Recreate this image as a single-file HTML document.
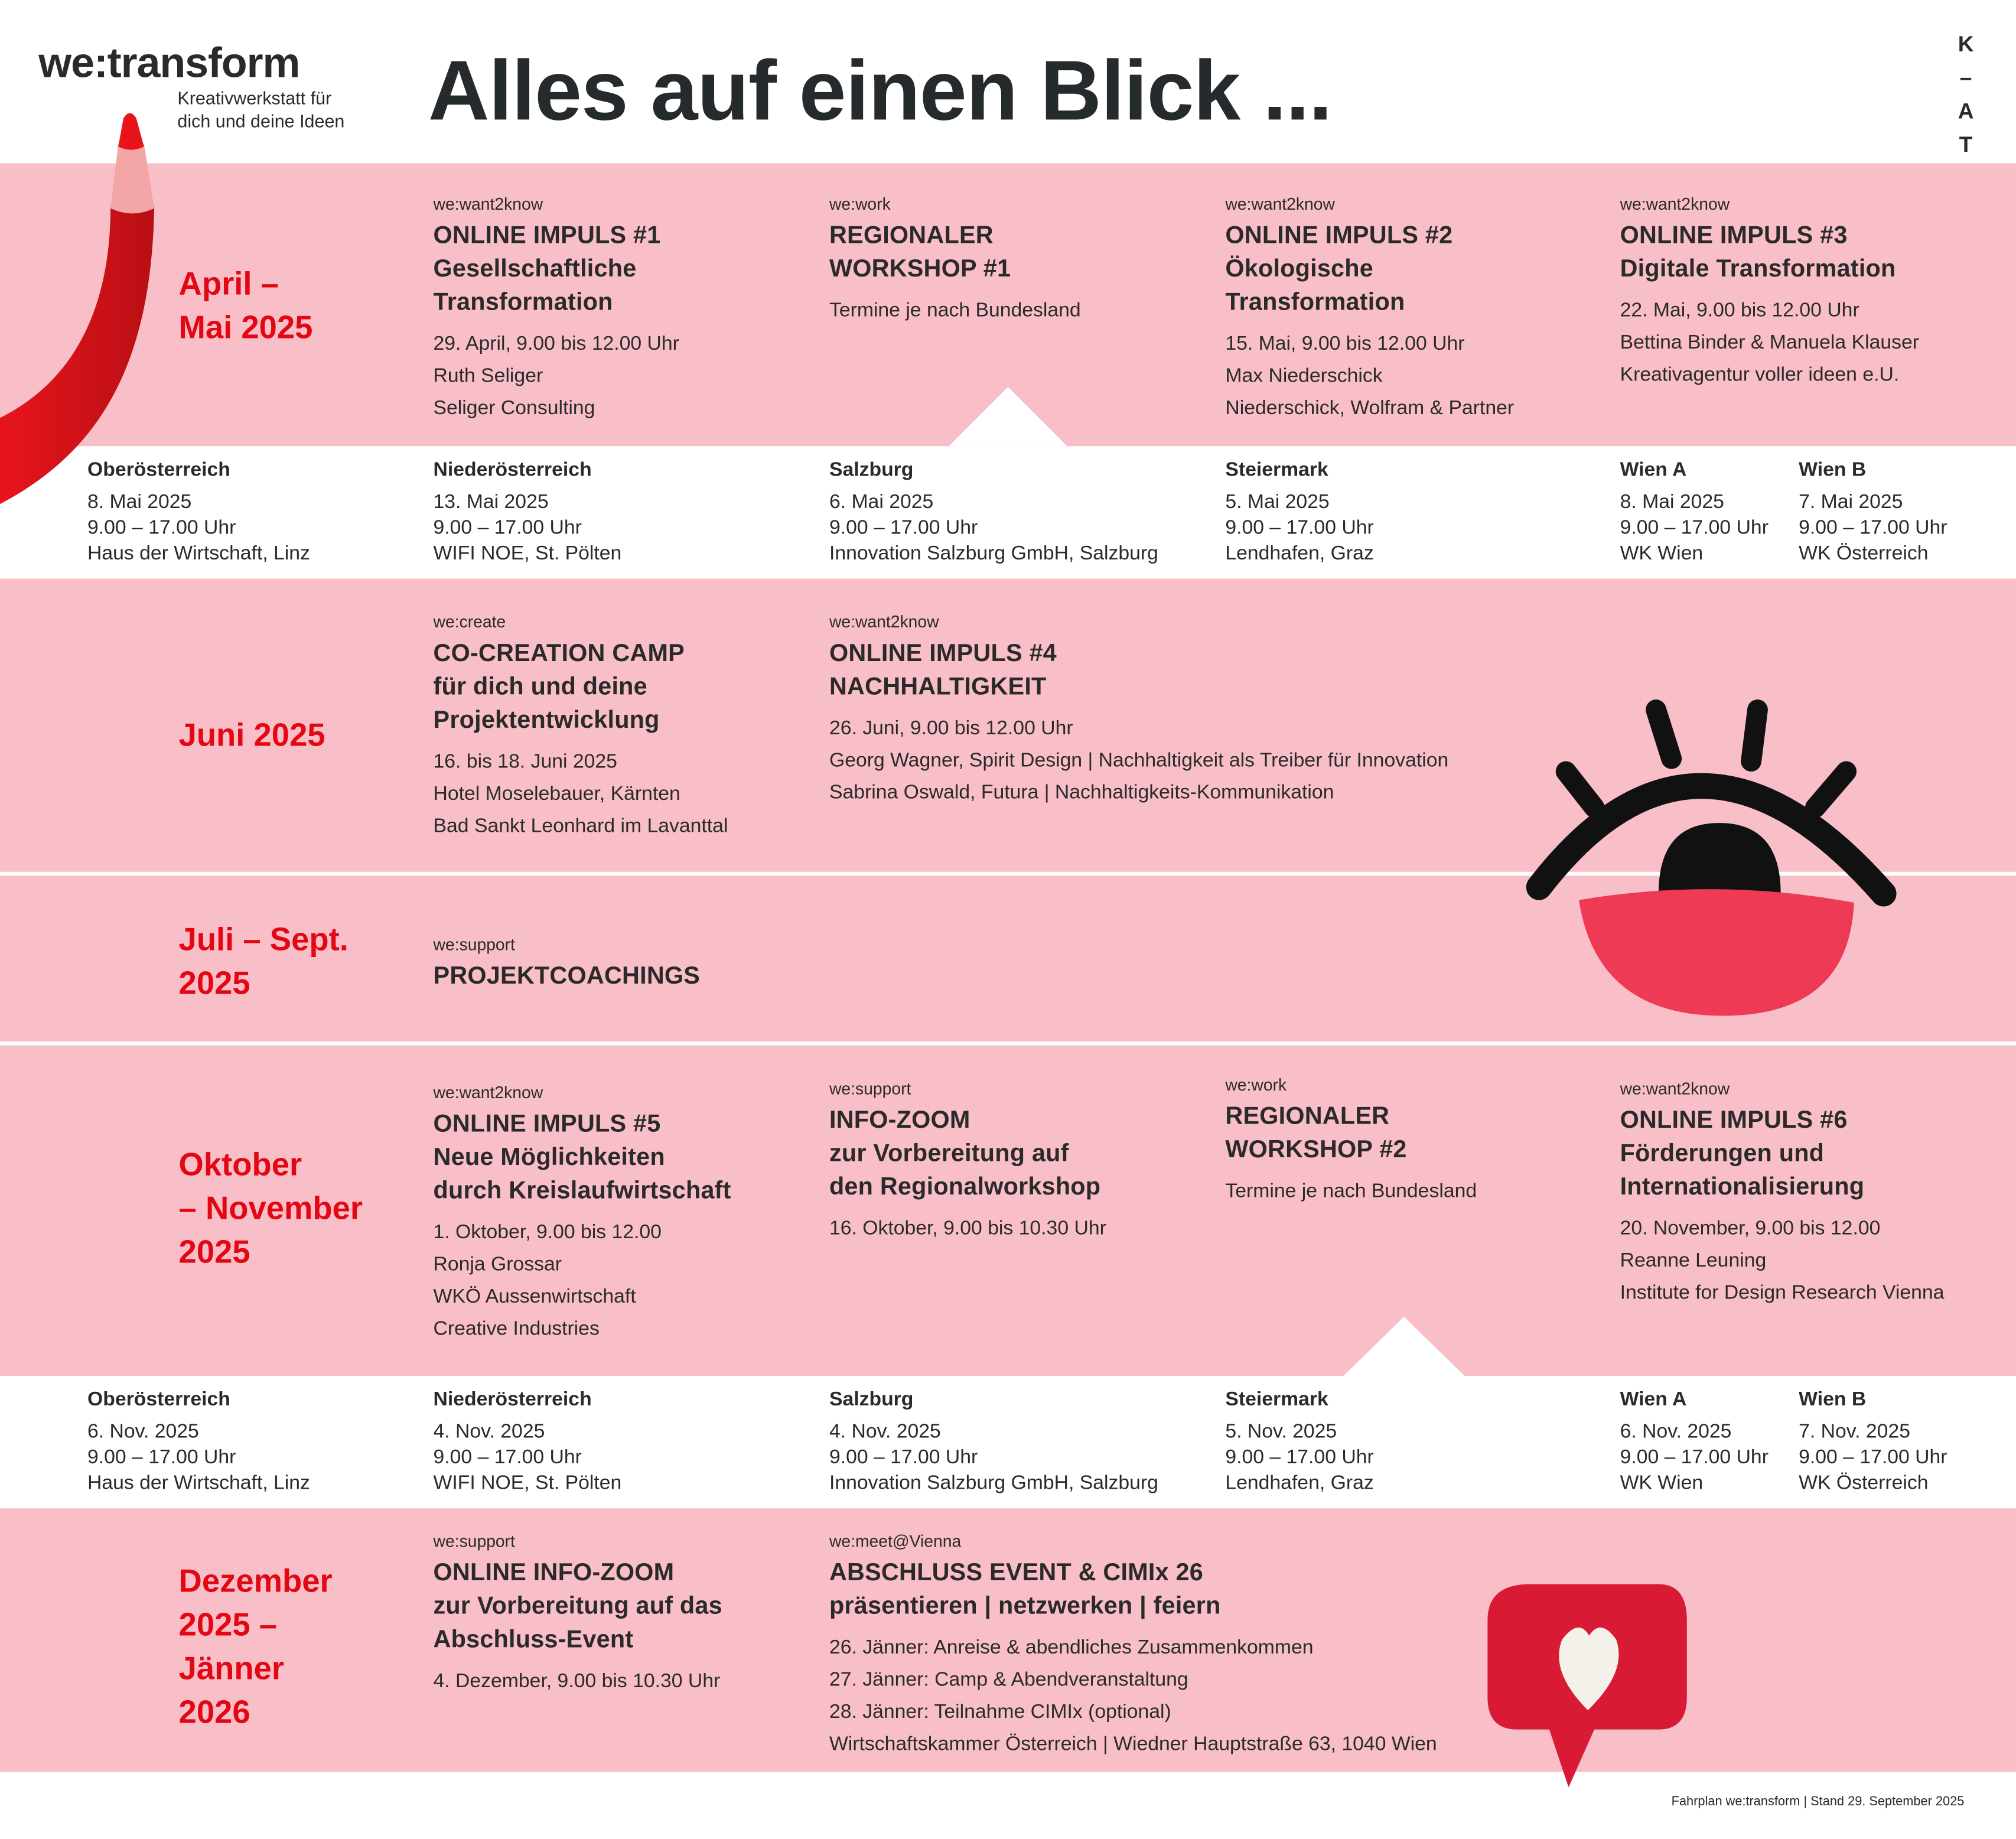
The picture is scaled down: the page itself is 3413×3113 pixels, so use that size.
<!DOCTYPE html>
<html><head><meta charset="utf-8"><style>
html,body{margin:0;padding:0;background:#fff;}
body{width:3413px;height:3111px;overflow:hidden;position:relative;}
#s{position:absolute;left:0;top:0;width:1568px;height:1430px;transform:scale(2.17666);transform-origin:0 0;font-family:"Liberation Sans",sans-serif;color:#2a2a2a;}
.p{position:absolute;left:0;width:1568px;background:#f9bfc8;}
.a{position:absolute;white-space:nowrap;}
.sm{font-size:13px;line-height:16px;}
.t{font-size:19px;font-weight:bold;line-height:26px;letter-spacing:0.1px;margin-top:4px;}
.b{font-size:15.5px;line-height:25px;margin-top:6px;}
.m{font-size:25px;font-weight:bold;color:#e30613;line-height:34px;}
.w{font-size:15.5px;line-height:20px;}
.w b{font-weight:bold;display:block;}
.w .d{display:block;margin-top:5px;}
</style></head><body><div id="s">
<div class="p" style="top:127px;height:220px"></div>
<div class="p" style="top:450px;height:228px"></div>
<div class="p" style="top:681px;height:129px"></div>
<div class="p" style="top:813px;height:257px"></div>
<div class="p" style="top:1173px;height:205px"></div>
<svg class="a" style="left:0;top:0" width="1568" height="1430">
<defs><linearGradient id="g" x1="0" x2="1" y1="0" y2="0"><stop offset="0" stop-color="#e8141c"/><stop offset="1" stop-color="#b80f14"/></linearGradient></defs>
<polygon points="738,347 784,301 830,347" fill="#fff"/>
<polygon points="1045,1070 1092,1024 1139,1070" fill="#fff"/>
<!-- pencil -->
<path d="M86,160 C86,250 50,300 0,325 L0,392 C80,350 118,280 120,160 Z" fill="url(#g)"/>
<path d="M86,162 L92,112 L112,112 L120,162 Q103,170 86,162 Z" fill="#f3a6a6"/>
<path d="M92,114 L96,92 Q101,84 106,92 L112,114 Q102,119 92,114 Z" fill="#e8141c"/>
<!-- eye -->
<path d="M1197,690 Q1320,530 1465,695" stroke="#111" stroke-width="20" fill="none" stroke-linecap="round"/>
<path d="M1290,695 Q1290,640 1337,640 Q1385,640 1385,695 Z" fill="#111"/>
<path d="M1228,700 Q1335,682 1442,702 Q1438,790 1340,790 Q1242,790 1228,700 Z" fill="#ee3a55"/>
<g stroke="#111" stroke-width="16" stroke-linecap="round"><line x1="1218" y1="600" x2="1240" y2="628"/><line x1="1288" y1="552" x2="1300" y2="590"/><line x1="1367" y1="552" x2="1362" y2="592"/><line x1="1436" y1="600" x2="1412" y2="628"/></g>
<!-- bubble -->
<path d="M1190,1232 L1290,1232 Q1312,1232 1312,1260 L1312,1320 Q1312,1345 1290,1345 L1240,1345 L1220,1390 L1205,1345 L1180,1345 Q1157,1345 1157,1320 L1157,1260 Q1157,1232 1190,1232 Z" fill="#d81a35"/>
<path d="M1235,1330 Q1205,1300 1215,1275 Q1228,1258 1236,1272 Q1245,1258 1257,1275 Q1266,1300 1235,1330 Z" fill="#f4f1ea"/>
</svg>
<div class="a" style="left:30px;top:30px;font-size:33px;font-weight:bold;letter-spacing:-0.5px;">we:transform</div>
<div class="a" style="left:138px;top:67px;font-size:14px;line-height:18px">Kreativwerkstatt für<br>dich und deine Ideen</div>
<div class="a" style="left:333px;top:32px;font-size:66px;font-weight:bold;letter-spacing:-0.5px;color:#252a2c">Alles auf einen Blick ...</div>
<div class="a" style="left:1520px;top:22px;font-size:17px;font-weight:bold;line-height:26px;text-align:center;width:18px">K<br>–<br>A<br>T</div>
<!-- band1 -->
<div class="a m" style="left:139px;top:204px">April –<br>Mai 2025</div>
<div class="a" style="left:337px;top:151px"><div class="sm">we:want2know</div><div class="t">ONLINE IMPULS #1<br>Gesellschaftliche<br>Transformation</div><div class="b">29. April, 9.00 bis 12.00 Uhr<br>Ruth Seliger<br>Seliger Consulting</div></div>
<div class="a" style="left:645px;top:151px"><div class="sm">we:work</div><div class="t">REGIONALER<br>WORKSHOP #1</div><div class="b">Termine je nach Bundesland</div></div>
<div class="a" style="left:953px;top:151px"><div class="sm">we:want2know</div><div class="t">ONLINE IMPULS #2<br>Ökologische<br>Transformation</div><div class="b">15. Mai, 9.00 bis 12.00 Uhr<br>Max Niederschick<br>Niederschick, Wolfram &amp; Partner</div></div>
<div class="a" style="left:1260px;top:151px"><div class="sm">we:want2know</div><div class="t">ONLINE IMPULS #3<br>Digitale Transformation</div><div class="b">22. Mai, 9.00 bis 12.00 Uhr<br>Bettina Binder &amp; Manuela Klauser<br>Kreativagentur voller ideen e.U.</div></div>
<!-- white row 1 -->
<div class="a w" style="left:68px;top:356px"><b>Oberösterreich</b><span class="d">8. Mai 2025</span>9.00 – 17.00 Uhr<br>Haus der Wirtschaft, Linz</div>
<div class="a w" style="left:337px;top:356px"><b>Niederösterreich</b><span class="d">13. Mai 2025</span>9.00 – 17.00 Uhr<br>WIFI NOE, St. Pölten</div>
<div class="a w" style="left:645px;top:356px"><b>Salzburg</b><span class="d">6. Mai 2025</span>9.00 – 17.00 Uhr<br>Innovation Salzburg GmbH, Salzburg</div>
<div class="a w" style="left:953px;top:356px"><b>Steiermark</b><span class="d">5. Mai 2025</span>9.00 – 17.00 Uhr<br>Lendhafen, Graz</div>
<div class="a w" style="left:1260px;top:356px"><b>Wien A</b><span class="d">8. Mai 2025</span>9.00 – 17.00 Uhr<br>WK Wien</div>
<div class="a w" style="left:1399px;top:356px"><b>Wien B</b><span class="d">7. Mai 2025</span>9.00 – 17.00 Uhr<br>WK Österreich</div>
<!-- band2 -->
<div class="a m" style="left:139px;top:555px">Juni 2025</div>
<div class="a" style="left:337px;top:476px"><div class="sm">we:create</div><div class="t">CO-CREATION CAMP<br>für dich und deine<br>Projektentwicklung</div><div class="b">16. bis 18. Juni 2025<br>Hotel Moselebauer, Kärnten<br>Bad Sankt Leonhard im Lavanttal</div></div>
<div class="a" style="left:645px;top:476px"><div class="sm">we:want2know</div><div class="t">ONLINE IMPULS #4<br>NACHHALTIGKEIT</div><div class="b">26. Juni, 9.00 bis 12.00 Uhr<br>Georg Wagner, Spirit Design | Nachhaltigkeit als Treiber für Innovation<br>Sabrina Oswald, Futura | Nachhaltigkeits-Kommunikation</div></div>
<!-- band3 -->
<div class="a m" style="left:139px;top:714px">Juli – Sept.<br>2025</div>
<div class="a" style="left:337px;top:727px"><div class="sm">we:support</div><div class="t">PROJEKTCOACHINGS</div></div>
<!-- band4 -->
<div class="a m" style="left:139px;top:889px">Oktober<br>– November<br>2025</div>
<div class="a" style="left:337px;top:842px"><div class="sm">we:want2know</div><div class="t">ONLINE IMPULS #5<br>Neue Möglichkeiten<br>durch Kreislaufwirtschaft</div><div class="b">1. Oktober, 9.00 bis 12.00<br>Ronja Grossar<br>WKÖ Aussenwirtschaft<br>Creative Industries</div></div>
<div class="a" style="left:645px;top:839px"><div class="sm">we:support</div><div class="t">INFO-ZOOM<br>zur Vorbereitung auf<br>den Regionalworkshop</div><div class="b">16. Oktober, 9.00 bis 10.30 Uhr</div></div>
<div class="a" style="left:953px;top:836px"><div class="sm">we:work</div><div class="t">REGIONALER<br>WORKSHOP #2</div><div class="b">Termine je nach Bundesland</div></div>
<div class="a" style="left:1260px;top:839px"><div class="sm">we:want2know</div><div class="t">ONLINE IMPULS #6<br>Förderungen und<br>Internationalisierung</div><div class="b">20. November, 9.00 bis 12.00<br>Reanne Leuning<br>Institute for Design Research Vienna</div></div>
<!-- white row 2 -->
<div class="a w" style="left:68px;top:1079px"><b>Oberösterreich</b><span class="d">6. Nov. 2025</span>9.00 – 17.00 Uhr<br>Haus der Wirtschaft, Linz</div>
<div class="a w" style="left:337px;top:1079px"><b>Niederösterreich</b><span class="d">4. Nov. 2025</span>9.00 – 17.00 Uhr<br>WIFI NOE, St. Pölten</div>
<div class="a w" style="left:645px;top:1079px"><b>Salzburg</b><span class="d">4. Nov. 2025</span>9.00 – 17.00 Uhr<br>Innovation Salzburg GmbH, Salzburg</div>
<div class="a w" style="left:953px;top:1079px"><b>Steiermark</b><span class="d">5. Nov. 2025</span>9.00 – 17.00 Uhr<br>Lendhafen, Graz</div>
<div class="a w" style="left:1260px;top:1079px"><b>Wien A</b><span class="d">6. Nov. 2025</span>9.00 – 17.00 Uhr<br>WK Wien</div>
<div class="a w" style="left:1399px;top:1079px"><b>Wien B</b><span class="d">7. Nov. 2025</span>9.00 – 17.00 Uhr<br>WK Österreich</div>
<!-- band5 -->
<div class="a m" style="left:139px;top:1213px">Dezember<br>2025 –<br>Jänner<br>2026</div>
<div class="a" style="left:337px;top:1191px"><div class="sm">we:support</div><div class="t">ONLINE INFO-ZOOM<br>zur Vorbereitung auf das<br>Abschluss-Event</div><div class="b">4. Dezember, 9.00 bis 10.30 Uhr</div></div>
<div class="a" style="left:645px;top:1191px"><div class="sm">we:meet@Vienna</div><div class="t">ABSCHLUSS EVENT &amp; CIMIx 26<br>präsentieren | netzwerken | feiern</div><div class="b">26. Jänner: Anreise &amp; abendliches Zusammenkommen<br>27. Jänner: Camp &amp; Abendveranstaltung<br>28. Jänner: Teilnahme CIMIx (optional)<br>Wirtschaftskammer Österreich | Wiedner Hauptstraße 63, 1040 Wien</div></div>
<div class="a" style="left:1300px;top:1396px;font-size:10px">Fahrplan we:transform | Stand 29. September 2025</div>
</div></body></html>
